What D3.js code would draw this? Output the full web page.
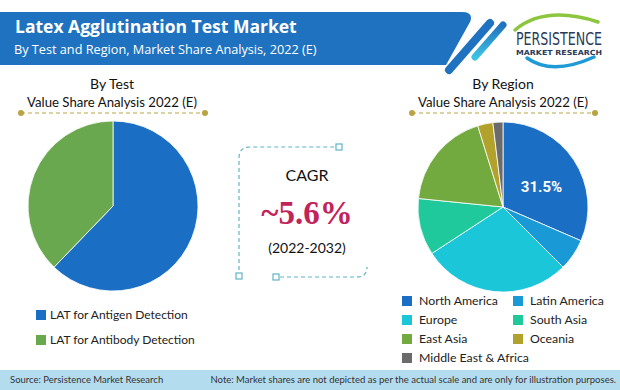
<!DOCTYPE html>
<html><head><meta charset="utf-8">
<script src="https://cdn.jsdelivr.net/npm/d3@7"></script>
<style>
html,body{margin:0;padding:0;background:#fff;}
svg{display:block;}
text{font-family:Lato,"Open Sans",sans-serif;}
</style></head>
<body>
<svg id="c" width="620" height="390"></svg>
<script>
const testCategories = ["LAT for Antigen Detection", "LAT for Antibody Detection"];
const testValues = [62.2, 37.8];
const testColors = ["#1a6ec3", "#6aa84f"];

const regionCategories = ["North America", "Latin America", "Europe", "South Asia", "East Asia", "Oceania", "Middle East & Africa"];
const regionValues = [31.5, 6.0, 28.3, 10.8, 18.6, 2.9, 1.9];
const regionColors = ["#1a6ec3", "#1a99d7", "#1cc6d9", "#1fc99b", "#72aa40", "#b2a22c", "#6b6b6b"];
const regionLabel = "31.5%";

const cagrValue = "~5.6%";
const cagrPeriod = "(2022-2032)";

const svg = d3.select("#c");

// Header banner
svg.append("path")
  .attr("d", "M0,12 L462,12 Q474,12 470,22 L446,65 L0,65 Z")
  .attr("fill", "#1f72bf");
svg.append("line").attr("x1", 490).attr("y1", 23).attr("x2", 449).attr("y2", 70)
  .attr("stroke", "#1f72bf").attr("stroke-width", 8).attr("stroke-linecap", "round");
const grad = svg.append("defs").append("linearGradient").attr("id", "sg")
  .attr("x1", "0").attr("y1", "0").attr("x2", "0").attr("y2", "1");
grad.append("stop").attr("offset", "0").attr("stop-color", "#1f72bf");
grad.append("stop").attr("offset", "1").attr("stop-color", "#3cc3e3");
svg.append("line").attr("x1", 503).attr("y1", 25).attr("x2", 475).attr("y2", 57)
  .attr("stroke", "url(#sg)").attr("stroke-width", 7).attr("stroke-linecap", "round");

svg.append("text").attr("x", 15).attr("y", 33)
  .style("font-family", "'Open Sans',sans-serif").style("font-weight", "bold")
  .style("font-size", "17.5px").attr("fill", "#fff")
  .text("Latex Agglutination Test Market");
svg.append("text").attr("x", 14).attr("y", 54)
  .style("font-family", "'Open Sans',sans-serif")
  .style("font-size", "12.7px").attr("fill", "#fff")
  .text("By Test and Region, Market Share Analysis, 2022 (E)");

// Logo
svg.append("path").attr("d", "M515,30 Q545,5 598,22")
  .attr("fill", "none").attr("stroke", "#8cc63f").attr("stroke-width", 3.5).attr("stroke-linecap", "round");
svg.append("path").attr("d", "M527,58 Q552,76 594,57")
  .attr("fill", "none").attr("stroke", "#1e9ad6").attr("stroke-width", 3.5).attr("stroke-linecap", "round");
svg.append("text").attr("x", 516).attr("y", 45)
  .style("font-family", "'DejaVu Sans Condensed','DejaVu Sans',sans-serif")
  .style("font-size", "17px").attr("fill", "#2b3a57")
  .attr("textLength", 86).attr("lengthAdjust", "spacingAndGlyphs")
  .text("PERSISTENCE");
svg.append("text").attr("x", 516).attr("y", 55)
  .style("font-family", "'DejaVu Sans',sans-serif").style("font-weight", "bold")
  .style("font-size", "7px").attr("fill", "#2b3a57")
  .attr("textLength", 86).attr("lengthAdjust", "spacingAndGlyphs")
  .text("MARKET RESEARCH");

// Section headings
function heading(cx, x1, x2, line1) {
  svg.append("text").attr("x", cx).attr("y", 89).attr("text-anchor", "middle")
    .style("font-size", "14px").attr("fill", "#111").text(line1);
  svg.append("text").attr("x", cx).attr("y", 107).attr("text-anchor", "middle")
    .style("font-size", "13.2px").attr("fill", "#111").text("Value Share Analysis 2022 (E)");
  svg.append("line").attr("x1", x1).attr("x2", x2).attr("y1", 113).attr("y2", 113)
    .attr("stroke", "#b9a444").attr("stroke-width", 1.2).attr("stroke-dasharray", "4,3");
  [x1, x2].forEach(x => svg.append("circle").attr("cx", x).attr("cy", 113).attr("r", 3).attr("fill", "#b9a444"));
}
heading(112, 21, 205, "By Test");
heading(503, 412, 595, "By Region");

// Pies
const pie = d3.pie().sort(null).value(d => d);
const arc = d3.arc().innerRadius(0).outerRadius(85);

const gL = svg.append("g").attr("transform", "translate(113,206)");
gL.selectAll("path").data(pie(testValues)).join("path")
  .attr("d", arc).attr("fill", (d, i) => testColors[i])
  .attr("stroke", "#fff").attr("stroke-width", 0.8);

const gR = svg.append("g").attr("transform", "translate(503,207)");
const rArcs = pie(regionValues);
gR.selectAll("path").data(rArcs).join("path")
  .attr("d", arc).attr("fill", (d, i) => regionColors[i])
  .attr("stroke", "#fff").attr("stroke-width", 0.8);
const labelArc = d3.arc().innerRadius(46).outerRadius(46);
const lc = labelArc.centroid(rArcs[0]);
gR.append("text").attr("x", lc[0]).attr("y", lc[1] + 5).attr("text-anchor", "middle")
  .attr("dy", "0.35em")
  .style("font-family", "Roboto,sans-serif").style("font-weight", "bold")
  .style("font-size", "15px").attr("fill", "#fff").text(regionLabel);

// CAGR box
const boxC = "#5fb4c6";
svg.append("path").attr("d", "M239,270 L239,158 Q239,147 250,147 L336,147")
  .attr("fill", "none").attr("stroke", boxC).attr("stroke-width", 1.2).attr("stroke-dasharray", "4,3");
svg.append("path").attr("d", "M280,277 L357,277 Q367,277 367,267")
  .attr("fill", "none").attr("stroke", boxC).attr("stroke-width", 1.2).attr("stroke-dasharray", "4,3");
[[339, 147], [239, 276], [276, 277]].forEach(p =>
  svg.append("rect").attr("x", p[0] - 3).attr("y", p[1] - 3).attr("width", 6).attr("height", 6)
    .attr("fill", "#fff").attr("stroke", boxC).attr("stroke-width", 1.2));

svg.append("text").attr("x", 307).attr("y", 181).attr("text-anchor", "middle")
  .style("font-size", "16px").attr("fill", "#111").text("CAGR");
svg.append("text").attr("x", 307).attr("y", 224).attr("text-anchor", "middle")
  .style("font-family", "'Liberation Serif','DejaVu Serif',serif").style("font-weight", "bold")
  .style("font-size", "33px").attr("fill", "#c1235a").text(cagrValue);
svg.append("text").attr("x", 307).attr("y", 253).attr("text-anchor", "middle")
  .style("font-size", "14px").attr("fill", "#111").text(cagrPeriod);

// Left legend
testCategories.forEach((c, i) => {
  const y = 315 + i * 25;
  svg.append("rect").attr("x", 36).attr("y", y - 5).attr("width", 10).attr("height", 10).attr("fill", testColors[i]);
  svg.append("text").attr("x", 50).attr("y", y).attr("dy", "0.35em")
    .style("font-size", "12px").attr("fill", "#222").text(c);
});

// Right legend
regionCategories.forEach((c, i) => {
  const col = i % 2, row = Math.floor(i / 2);
  const x = col === 0 ? 406 : 517;
  const y = 301 + row * 19;
  svg.append("rect").attr("x", x - 4).attr("y", y - 5).attr("width", 10).attr("height", 10).attr("fill", regionColors[i]);
  svg.append("text").attr("x", x + 13).attr("y", y).attr("dy", "0.35em")
    .style("font-size", "12.3px").attr("fill", "#222").text(c);
});

// Footer
svg.append("rect").attr("x", 0).attr("y", 370).attr("width", 620).attr("height", 20).attr("fill", "#b4dcef");
svg.append("text").attr("x", 10).attr("y", 380).attr("dy", "0.35em")
  .style("font-size", "9.5px").attr("fill", "#333").text("Source: Persistence Market Research");
svg.append("text").attr("x", 616).attr("y", 380).attr("dy", "0.35em").attr("text-anchor", "end")
  .style("font-size", "9.5px").attr("fill", "#333")
  .text("Note: Market shares are not depicted as per the actual scale and are only for illustration purposes.");
</script>
</body></html>
